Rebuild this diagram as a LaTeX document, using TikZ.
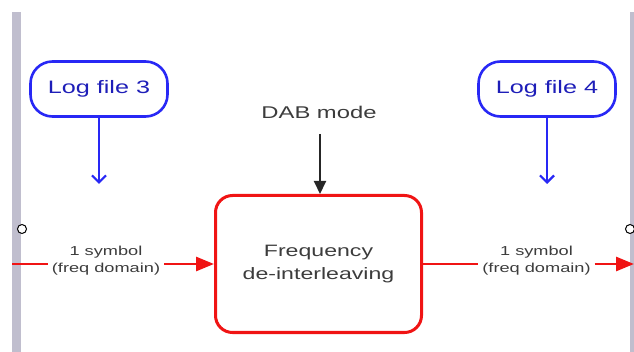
\documentclass[tikz,border=0pt]{standalone}
\usepackage{fontspec}
\setmainfont{Liberation Sans}[FakeStretch=1.4]
\usetikzlibrary{arrows.meta}
\definecolor{railgrey}{RGB}{192,190,206}
\definecolor{logblue}{RGB}{40,40,245}
\definecolor{flowred}{RGB}{240,20,20}
\definecolor{txtgrey}{RGB}{60,60,60}
\tikzset{
  logbox/.style={draw=logblue, line width=2.6pt, rounded corners=22pt, minimum width=137pt, minimum height=55pt, text=logblue!75!black, font=\fontsize{18}{20}\selectfont},
  procbox/.style={draw=flowred, line width=3pt, rounded corners=17pt, minimum width=206pt, minimum height=137pt, align=center, text=txtgrey, font=\fontsize{16.5}{23}\selectfont},
  lbl/.style={align=center, text=txtgrey, inner sep=0pt, minimum width=116pt, font=\fontsize{13}{17}\selectfont},
  logarrow/.style={draw=logblue, line width=2.2pt, -{Straight Barb[length=7pt,width=14pt,line width=2.2pt]}},
  redarrow/.style={draw=flowred, line width=2.8pt, -{Triangle[length=18pt,width=14pt]}},
  redline/.style={draw=flowred, line width=2.8pt},
  blkarrow/.style={draw=black!85, line width=2pt, -{Triangle[length=13pt,width=12pt]}},
  port/.style={circle, draw=black, line width=1pt, fill=white, inner sep=0pt, minimum size=9pt}
}
\begin{document}
\begin{tikzpicture}[x=1pt,y=-1pt]
\useasboundingbox (0,0) rectangle (634,352);
% side rails
\fill[railgrey] (12,12) rectangle (21,352);
\fill[railgrey] (630,12) rectangle (634,352);

% nodes
\node[logbox] (log3) at (99,89) {Log file 3};
\node[logbox] (log4) at (547,89) {Log file 4};
\coordinate (log3end) at (99,184);
\coordinate (log4end) at (547,184);

\node[text=txtgrey, font=\fontsize{17}{20}\selectfont] (mode) at (319,112) {DAB mode};
\coordinate (modeend) at (320,134);
\node[procbox] (fdi) at (318.5,264) {Frequency\\de-interleaving};

\node[lbl] (symin) at (106,261) {1 symbol\\(freq domain)};
\node[lbl] (symout) at (536.5,261) {1 symbol\\(freq domain)};

\coordinate (inL) at (12,264);
\coordinate (outR) at (634,264);

\node[port] (pin) at (22,229) {};
\node[port] (pout) at (630,229) {};

% connectors
\draw[logarrow] (log3.south) -- (log3end);
\draw[logarrow] (log4.south) -- (log4end);
\draw[blkarrow] (modeend) -- (fdi.north -| modeend);
\draw[redline] (inL) -- (symin.west |- inL);
\draw[redarrow] (symin.east |- inL) -- (fdi.west);
\draw[redline] (fdi.east) -- (symout.west |- outR);
\draw[redarrow] (symout.east |- outR) -- (outR);
\end{tikzpicture}
\end{document}
